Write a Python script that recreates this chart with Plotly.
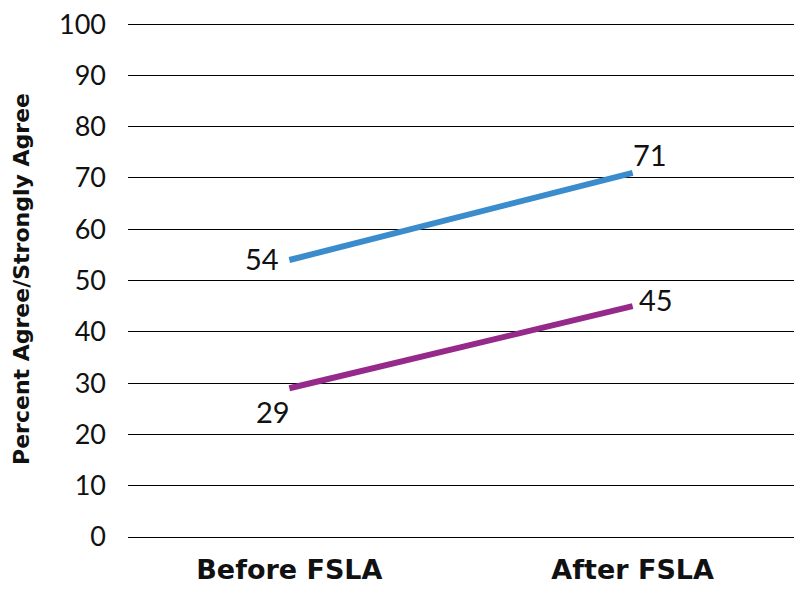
import plotly.graph_objects as go

categories = ["Before FSLA", "After FSLA"]
series_a = [54, 71]
series_b = [29, 45]
y_ticks = [0, 10, 20, 30, 40, 50, 60, 70, 80, 90, 100]

FONT = "Lato, 'Open Sans', sans-serif"
BOLD = "'DejaVu Sans', sans-serif"

fig = go.Figure()
fig.add_trace(go.Scatter(
    x=[0, 1], y=series_a, mode="lines",
    line=dict(color="#3a8ccc", width=6),
    showlegend=False, hoverinfo="skip",
))
fig.add_trace(go.Scatter(
    x=[0, 1], y=series_b, mode="lines",
    line=dict(color="#962a8b", width=6),
    showlegend=False, hoverinfo="skip",
))

# label placements (anchor, shifts) for each point
label_style = {
    ("a", 0): dict(xanchor="right", yanchor="middle", xshift=-8, yshift=2),
    ("a", 1): dict(xanchor="left", yanchor="middle", xshift=-2, yshift=18),
    ("b", 0): dict(xanchor="right", yanchor="middle", xshift=3, yshift=-23),
    ("b", 1): dict(xanchor="left", yanchor="middle", xshift=4, yshift=7),
}
annotations = []
for key, series in (("a", series_a), ("b", series_b)):
    for i, v in enumerate(series):
        annotations.append(dict(
            x=i, y=v, xref="x", yref="y", text=str(v), showarrow=False,
            font=dict(size=29, color="#111111", family=FONT),
            **label_style[(key, i)],
        ))

fig.update_layout(
    width=802, height=597,
    margin=dict(l=120, r=16, t=13, b=68),
    paper_bgcolor="white", plot_bgcolor="white",
    font=dict(family=FONT, color="#111111"),
    annotations=annotations,
    xaxis=dict(
        range=[-0.47, 1.47], automargin=False,
        tickmode="array", tickvals=[0, 1], ticktext=categories,
        tickfont=dict(size=27, family=BOLD, weight="bold"),
        showgrid=False, zeroline=False, showline=False, ticks="",
        ticklabelstandoff=14,
    ),
    yaxis=dict(
        range=[0, 100.6], automargin=False,
        tickmode="array", tickvals=y_ticks,
        tickfont=dict(size=27),
        ticklabeloverflow="allow",
        showgrid=True, gridcolor="black", gridwidth=1,
        zeroline=True, zerolinecolor="black", zerolinewidth=1,
        showline=False, ticks="",
        ticklabelstandoff=21,
        title=dict(text="Percent Agree/Strongly Agree",
                   font=dict(size=22, family=BOLD, weight="bold"), standoff=23),
    ),
)

fig.write_html("out.html")
